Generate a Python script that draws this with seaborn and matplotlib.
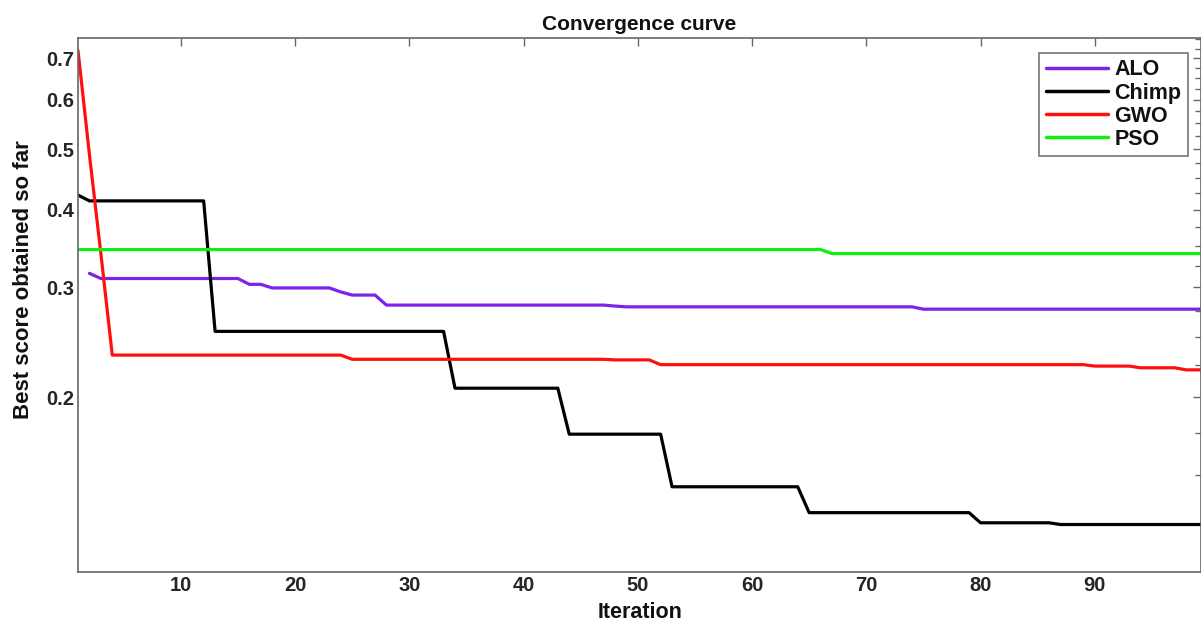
import numpy as np
import pandas as pd
import matplotlib
matplotlib.use("Agg")
import matplotlib.pyplot as plt
from matplotlib.ticker import FixedLocator, NullFormatter, FixedFormatter
import seaborn as sns

# ---- data (run-length encoded step curves) ----
iterations = list(range(1, 101))

alo_values = [np.nan, 0.316, 0.310, 0.3034, 0.2994, 0.295, 0.2916, 0.281, 0.280, 0.2792, 0.2768]
alo_runs   = [1, 1, 13, 2, 6, 1, 3, 20, 1, 26, 26]

chimp_values = [0.422, 0.413, 0.255, 0.2067, 0.1744, 0.1436, 0.1305, 0.1257, 0.1249]
chimp_runs   = [1, 11, 21, 10, 9, 12, 15, 7, 14]

gwo_values = [0.72, 0.49, 0.34, 0.2336, 0.230, 0.2295, 0.2255, 0.2243, 0.2229, 0.2212]
gwo_runs   = [1, 1, 1, 21, 23, 4, 38, 4, 4, 3]

pso_values = [0.345, 0.340]
pso_runs   = [66, 34]

algorithms = ["ALO", "Chimp", "GWO", "PSO"]
colors = ["#7b24e8", "#000000", "#ff1010", "#11ee11"]

y_major = [0.2, 0.3, 0.4, 0.5, 0.6, 0.7]
y_major_labels = ["0.2", "0.3", "0.4", "0.5", "0.6", "0.7"]
y_minor = [0.125, 0.15, 0.175, 0.225, 0.25, 0.275, 0.325, 0.35, 0.375,
           0.425, 0.45, 0.475, 0.525, 0.55, 0.575, 0.625, 0.65, 0.675, 0.725, 0.75]
x_ticks = [10, 20, 30, 40, 50, 60, 70, 80, 90]

series = {
    "ALO": np.repeat(alo_values, alo_runs),
    "Chimp": np.repeat(chimp_values, chimp_runs),
    "GWO": np.repeat(gwo_values, gwo_runs),
    "PSO": np.repeat(pso_values, pso_runs),
}
df = pd.concat([pd.DataFrame({"Iteration": iterations, "Score": series[a], "Algorithm": a})
                for a in algorithms], ignore_index=True)

# ---- style ----
sns.set_style("white")
plt.rcParams["font.family"] = ["Liberation Sans", "DejaVu Sans"]
plt.rcParams["font.weight"] = "bold"

W, H = 1201, 622
fig = plt.figure(figsize=(W / 100, H / 100), dpi=100)
ax = fig.add_axes([78 / W, (H - 572) / H, (W - 78) / W, (572 - 38) / H])

sns.lineplot(data=df, x="Iteration", y="Score", hue="Algorithm", hue_order=algorithms,
             palette=colors, linewidth=2.3, ax=ax, legend=True)

ax.set_yscale("log")
ax.set_xlim(1, 99.3)
ax.set_ylim(0.1048, 0.754)

ax.yaxis.set_major_locator(FixedLocator(y_major))
ax.yaxis.set_major_formatter(FixedFormatter(y_major_labels))
ax.yaxis.set_minor_locator(FixedLocator(y_minor))
ax.yaxis.set_minor_formatter(NullFormatter())
ax.xaxis.set_major_locator(FixedLocator(x_ticks))

tick_col = "#262626"
ax.tick_params(axis="both", which="both", direction="in", top=True, right=True,
               color="#666666", width=1.0)
ax.tick_params(axis="both", which="major", length=6, labelsize=14.5, labelcolor=tick_col)
ax.tick_params(axis="y", which="major", pad=3)
ax.tick_params(axis="x", which="major", pad=3)
ax.tick_params(axis="both", which="minor", length=4)
for lab in ax.get_xticklabels() + ax.get_yticklabels():
    lab.set_fontweight("bold")

for s in ax.spines.values():
    s.set_visible(True)
    s.set_color("#666666")
    s.set_linewidth(1.2)

ax.set_title("Convergence curve", fontsize=15, fontweight="bold", color="#111111", pad=6)
ax.set_xlabel("Iteration", fontsize=15.5, fontweight="bold", color="#111111")
ax.set_ylabel("Best score obtained so far", fontsize=16, fontweight="bold", color="#111111")
ax.xaxis.set_label_coords((640 - 78) / (W - 78), -(613 - 572) / (572 - 38))
ax.yaxis.set_label_coords(-(78 - 24) / (W - 78), (572 - 280) / (572 - 38))
ax.xaxis.label.set_va("center")
ax.yaxis.label.set_va("center")

leg = ax.legend(loc="upper right", bbox_to_anchor=((1188 - 78) / (W - 78), (572 - 53) / (572 - 38)),
                frameon=True, fancybox=False, fontsize=15.5, handlelength=2.9,
                labelspacing=0.1, borderpad=0.3, handletextpad=0.3, borderaxespad=0)
leg.get_frame().set_edgecolor("#555555")
leg.get_frame().set_linewidth(1.2)
for t in leg.get_texts():
    t.set_fontweight("bold")
    t.set_color("#111111")
for h in leg.get_lines():
    h.set_linewidth(2.5)

fig.savefig("out.png", dpi=100)
